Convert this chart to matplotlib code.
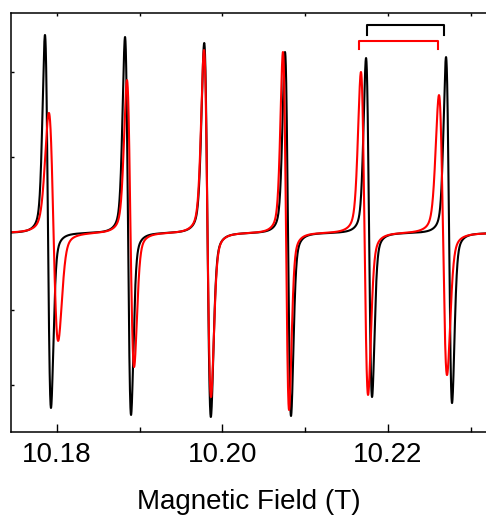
import numpy as np
import matplotlib
matplotlib.use("Agg")
import matplotlib.pyplot as plt

plt.rcParams['font.family'] = ['Liberation Sans', 'DejaVu Sans']

# Line parameters (field in T, amplitudes in arb. units,
# half peak-to-peak widths in T)
black_centers = [10.17891, 10.18859, 10.19820, 10.20793, 10.21773, 10.22740]
black_peaks   = [1.98, 1.96, 1.90, 1.81, 1.75, 1.76]
black_dips    = [1.75, 1.82, 1.84, 1.83, 1.64, 1.70]
black_widths  = [0.000363, 0.000363, 0.000400, 0.000363, 0.000363, 0.000363]

red_centers = [10.17958, 10.18889, 10.19820, 10.20769, 10.21718, 10.22667]
red_peaks   = [1.20, 1.53, 1.83, 1.81, 1.61, 1.38]
red_dips    = [1.08, 1.34, 1.64, 1.77, 1.62, 1.42]
red_widths  = [0.000560, 0.000430, 0.000423, 0.000370, 0.000430, 0.000484]

lorentz_fraction = 0.3

x_ticks = [10.18, 10.20, 10.22]
x_minor = [10.19, 10.21, 10.23]
y_ticks = [1.61, 0.76, -0.77, -1.52]

field = np.linspace(10.174, 10.233, 6000)


def spectrum(centers, peaks, dips, widths, eta=lorentz_fraction):
    y = np.zeros_like(field)
    lnorm = (1 / np.sqrt(3)) / (1 + 1 / 3) ** 2
    for c, p, d, w in zip(centers, peaks, dips, widths):
        u = (field - c) / w
        gauss = u * np.exp((1 - u ** 2) / 2)
        v = u / np.sqrt(3)
        lor = v / (1 + v ** 2) ** 2 / lnorm
        g = -(eta * lor + (1 - eta) * gauss)
        y += np.where(u < 0, p * g, d * g)
    return y


fig = plt.figure(figsize=(4.86, 5.16), dpi=100)
ax = fig.add_axes([11 / 486, 84 / 516, 1 - 11 / 486, (432 - 13) / 516])

ax.plot(field, spectrum(black_centers, black_peaks, black_dips, black_widths),
        color='black', lw=1.5)
ax.plot(field, spectrum(red_centers, red_peaks, red_dips, red_widths),
        color='#ff0000', lw=1.5)

# brackets
bx0, bx1, by_top, by_bot = 10.21749, 10.22680, 2.08, 1.98
ax.plot([bx0, bx0, bx1, bx1], [by_bot, by_top, by_top, by_bot], color='black', lw=1.5)
rx0, rx1, ry_top, ry_bot = 10.21652, 10.22607, 1.92, 1.84
ax.plot([rx0, rx0, rx1, rx1], [ry_bot, ry_top, ry_top, ry_bot], color='#ff0000', lw=1.5)

ax.set_xlim(10.17444, 10.23187)
ax.set_ylim(-1.99, 2.20)

ax.set_xticks(x_ticks)
ax.set_xticklabels([f"{v:.2f}" for v in x_ticks], fontsize=20)
ax.set_xticks(x_minor, minor=True)
ax.set_yticks(y_ticks)
ax.set_yticklabels([])
ax.tick_params(axis='x', which='major', direction='in', length=6, width=1, pad=7)
ax.tick_params(axis='x', which='minor', direction='in', length=3.5, width=1)
ax.tick_params(axis='y', direction='in', length=2.5, width=1)

sec = ax.secondary_xaxis('top')
sec.set_xticks(x_ticks + x_minor)
sec.set_xticklabels([])
sec.tick_params(direction='in', length=2.5, width=1)
sec.spines['top'].set_visible(False)

for s in ['left', 'bottom', 'top']:
    ax.spines[s].set_linewidth(1.1)
ax.spines['right'].set_visible(False)

ax.set_xlabel('Magnetic Field (T)', fontsize=20, labelpad=15)

fig.savefig('out.png', dpi=100)
